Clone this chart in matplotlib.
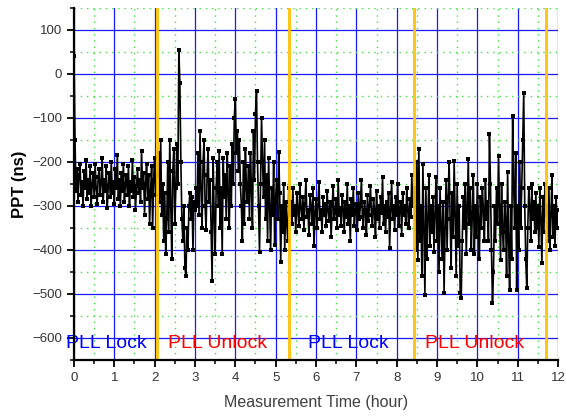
import numpy as np
import matplotlib
matplotlib.use("Agg")
import matplotlib.pyplot as plt
from matplotlib.ticker import MultipleLocator

plt.rcParams['font.family'] = ['Liberation Sans', 'DejaVu Sans']

# sampling step of the record (hours)
dt = 0.025

lock1 = [40, -150, -265, -215, -290, -230, -205, -275, -245, -300,
         -220, -260, -195, -285, -240, -270, -210, -300, -250, -225,
         -280, -205, -260, -295, -235, -215, -275, -250, -190, -290,
         -240, -265, -210, -305, -255, -225, -280, -200, -270, -245,
         -295, -215, -260, -185, -285, -240, -300, -225, -265, -205,
         -290, -250, -230, -275, -210, -300, -245, -265, -195, -280,
         -235, -310, -255, -215, -270, -240, -290, -175, -260, -225,
         -320, -250, -205, -285, -230, -340, -265, -210, -350, -240,
         -190, -275, -230]

unlock1 = [-230, -180, -290, -150, -320, -250, -380, -270, -410, -330,
           -200, -360, -150, -300, -420, -220, -170, -340, -260, -160,
           -250, 55, -20, -200, -330, -380, -300, -440, -460, -350,
           -400, -300, -270, -330, -280, -400, -290, -310, -260, -300,
           -180, -320, -130, -260, -350, -200, -150, -300, -355, -230,
           -170, -290, -240, -360, -470, -190, -320, -410, -260, -200,
           -300, -175, -350, -260, -410, -190, -280, -230, -330, -180,
           -270, -350, -210, -300, -160, -250, -100, -57, -180, -130,
           -220, -150, -250, -300, -380, -200, -340, -170, -260, -290,
           -210, -330, -180, -260, -350, -130, -240, -90, -38, -200,
           -300, -404, -250, -100, -200, -280, -150, -330, -230, -380,
           -190, -300, -400, -260, -320, -200, -389, -280, -240, -330,
           -178, -270, -427, -300, -360, -250, -400, -290, -340, -380,
           -260, -320]

lock2 = [-290, -340, -260, -320, -300, -360, -270, -310, -345, -250,
         -305, -330, -280, -355, -295, -240, -325, -310, -365, -275,
         -300, -340, -260, -390, -315, -285, -350, -300, -245, -330,
         -310, -360, -280, -320, -295, -345, -265, -310, -335, -290,
         -370, -300, -255, -330, -315, -285, -350, -240, -320, -305,
         -345, -275, -310, -360, -290, -325, -250, -340, -300, -380,
         -285, -320, -260, -345, -310, -295, -355, -270, -330, -300,
         -240, -325, -350, -290, -310, -365, -275, -335, -300, -255,
         -320, -345, -285, -310, -370, -265, -330, -300, -350, -280,
         -315, -235, -340, -300, -360, -290, -325, -270, -395, -310,
         -245, -330, -300, -355, -280, -320, -250, -345, -305, -290,
         -365, -270, -320, -300, -340, -260, -310, -350, -285, -325,
         -230, -300, -260]

unlock2 = [-270, -400, -200, -423, -170, -380, -300, -460, -204, -350,
           -502, -260, -420, -330, -230, -390, -300, -360, -280, -404,
           -320, -235, -380, -300, -450, -260, -340, -420, -290, -498,
           -350, -240, -400, -280, -200, -330, -440, -270, -370, -197,
           -320, -460, -250, -390, -300, -498, -510, -380, -280, -350,
           -250, -410, -300, -193, -340, -260, -400, -320, -230, -408,
           -300, -370, -250, -330, -420, -280, -350, -260, -310, -380,
           -240, -330, -290, -380, -136, -250, -400, -521, -450, -300,
           -380, -260, -340, -186, -300, -423, -250, -360, -400, -290,
           -330, -460, -223, -380, -491, -300, -420, -95, -250, -350,
           -180, -491, -300, -400, -200, -350, -260, -150, -44, -300,
           -420, -487, -350, -260, -300, -380, -250, -330, -290, -360,
           -270, -350, -300, -393, -260, -330, -430, -280, -360, -250,
           -320]

lock3 = [-300, -380, -260, -400, -320, -230, -370, -300, -390, -280,
         -350, -310]

ppt = np.array(lock1 + unlock1 + lock2 + unlock2 + lock3, dtype=float)
hours = np.arange(len(ppt)) * dt

# PLL state change times (hours)
switch_times = [2.07, 5.34, 8.42, 11.71]

labels = ["PLL Lock", "PLL Unlock", "PLL Lock", "PLL Unlock"]
label_x = [-0.2, 2.34, 5.81, 8.69]
label_colors = ["#0000ff", "#ff0000", "#0000ff", "#ff0000"]
label_y = -622

fig = plt.figure(figsize=(5.66, 4.2), dpi=100)
ax = fig.add_axes([0.1307, 0.1429, 0.8552, 0.8381])

ax.set_xlim(0, 12)
ax.set_ylim(-650, 150)

ax.xaxis.set_major_locator(MultipleLocator(1))
ax.xaxis.set_minor_locator(MultipleLocator(0.5))
ax.yaxis.set_major_locator(MultipleLocator(100))
ax.yaxis.set_minor_locator(MultipleLocator(50))

ax.grid(which='minor', color='#44e044', linestyle=(0, (1, 3.5)), linewidth=1.0, zorder=0)
ax.grid(which='major', color='#1a1aff', linestyle='-', linewidth=0.9, zorder=0.5)
ax.set_axisbelow(True)

ax.plot(hours, ppt, color='black', linewidth=1.2, marker='s', markersize=2.6,
        markeredgewidth=0, zorder=3)

for st in switch_times:
    ax.axvline(st, color='#ffc000', linewidth=2.2, alpha=0.9, zorder=4)

for txt, x, c in zip(labels, label_x, label_colors):
    ax.text(x, label_y, txt, color=c, fontsize=14, va='baseline', ha='left',
            clip_on=False, zorder=5)

for s in ['top', 'right']:
    ax.spines[s].set_visible(False)
for s in ['left', 'bottom']:
    ax.spines[s].set_linewidth(1.6)
    ax.spines[s].set_color('black')
    ax.spines[s].set_zorder(6)

ax.tick_params(which='major', direction='out', length=5, width=1.3, colors='black',
               labelcolor='#333333', labelsize=9.5)
ax.tick_params(which='minor', direction='out', length=3, width=1.1, colors='black')

ax.set_xlabel("Measurement Time (hour)", fontsize=11.5, color='#404040', labelpad=8)
ax.set_ylabel("PPT (ns)", fontsize=12, fontweight='bold', color='black', labelpad=4)

fig.savefig("out.png", dpi=100)
